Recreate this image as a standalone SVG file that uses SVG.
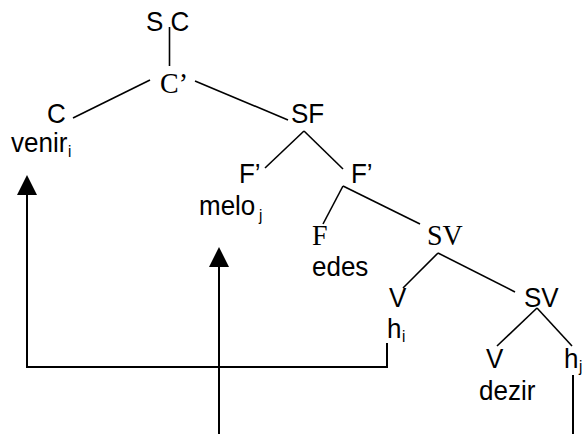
<svg xmlns="http://www.w3.org/2000/svg" width="587" height="434" viewBox="0 0 587 434">
  <style>
    .sans { font-family: "Liberation Sans", Arial, sans-serif; font-size: 26px; fill: #000; }
    .serif { font-family: "Liberation Serif", "Times New Roman", serif; font-size: 28px; fill: #000; }
    .sub { font-family: "Liberation Sans", Arial, sans-serif; font-size: 15px; fill: #000; }
    .branch { stroke: #000; stroke-width: 1.6; fill: none; }
    .move { stroke: #000; stroke-width: 2; fill: none; }
  </style>
  <rect width="587" height="434" fill="#fff"/>

  <g id="connectors">
    <!-- tree branches -->
    <line class="branch" x1="169.5" y1="27" x2="169.5" y2="66"/>
    <line class="branch" x1="150" y1="80" x2="73" y2="118"/>
    <line class="branch" x1="195" y1="81" x2="288" y2="120"/>
    <line class="branch" x1="304" y1="131" x2="265" y2="168"/>
    <line class="branch" x1="304" y1="131" x2="343" y2="169"/>
    <line class="branch" x1="343" y1="186" x2="323" y2="224"/>
    <line class="branch" x1="343" y1="186" x2="420" y2="224"/>
    <line class="branch" x1="438" y1="253" x2="403" y2="288"/>
    <line class="branch" x1="438" y1="253" x2="515" y2="292"/>
    <line class="branch" x1="537" y1="308" x2="497" y2="346"/>
    <line class="branch" x1="537" y1="308" x2="572" y2="346"/>
    <!-- movement paths with filled arrowheads -->
    <polyline class="move" points="387,343 387,367 27,367 27,195"/>
    <path d="M17,195 L27,175 L37,195 Z" fill="#000"/>
    <line class="move" x1="219" y1="434" x2="219" y2="267"/>
    <path d="M209,267 L219,247 L229,267 Z" fill="#000"/>
    <line class="move" x1="573" y1="375" x2="573" y2="434"/>
  </g>

  <!-- labels are drawn a little tall: scale(1 1.08) about each baseline -->
  <g id="node-sc"><text class="sans" transform="translate(146 31) scale(1 1.08)">S C</text></g>
  <g id="node-cbar"><text class="serif" transform="translate(160 93) scale(1 1.08)">C’</text></g>
  <g id="node-c">
    <text class="sans" transform="translate(47 123) scale(1 1.08)">C</text>
    <text class="sans" transform="translate(11 152) scale(1 1.08)">venir</text>
    <text class="sub" transform="translate(68 157) scale(1 1.08)">i</text>
  </g>
  <g id="node-sf"><text class="sans" transform="translate(291 123) scale(1 1.08)">SF</text></g>
  <g id="node-fbar-left">
    <text class="sans" transform="translate(239 183) scale(1 1.08)">F’</text>
    <text class="sans" transform="translate(199 215) scale(1 1.08)">melo</text>
    <text class="sub" transform="translate(259 221) scale(1 1.08)">j</text>
  </g>
  <g id="node-fbar-right"><text class="sans" transform="translate(351 183) scale(1 1.08)">F’</text></g>
  <g id="node-f">
    <text class="serif" transform="translate(312 245) scale(1 1.08)">F</text>
    <text class="sans" transform="translate(312 276) scale(1 1.08)">edes</text>
  </g>
  <g id="node-sv"><text class="serif" transform="translate(427 245) scale(1 1.08)">SV</text></g>
  <g id="node-v1">
    <text class="sans" transform="translate(389 307) scale(1 1.08)">V</text>
    <text class="sans" transform="translate(387 338) scale(1 1.08)">h</text>
    <text class="sub" transform="translate(402 342) scale(1 1.08)">i</text>
  </g>
  <g id="node-sv2"><text class="sans" transform="translate(524 307) scale(1 1.08)">SV</text></g>
  <g id="node-v2">
    <text class="sans" transform="translate(486 368) scale(1 1.08)">V</text>
    <text class="sans" transform="translate(479 400) scale(1 1.08)">dezir</text>
  </g>
  <g id="node-hj">
    <text class="sans" transform="translate(564 368) scale(1 1.08)">h</text>
    <text class="sub" transform="translate(579 372) scale(1 1.08)">j</text>
  </g>
</svg>
